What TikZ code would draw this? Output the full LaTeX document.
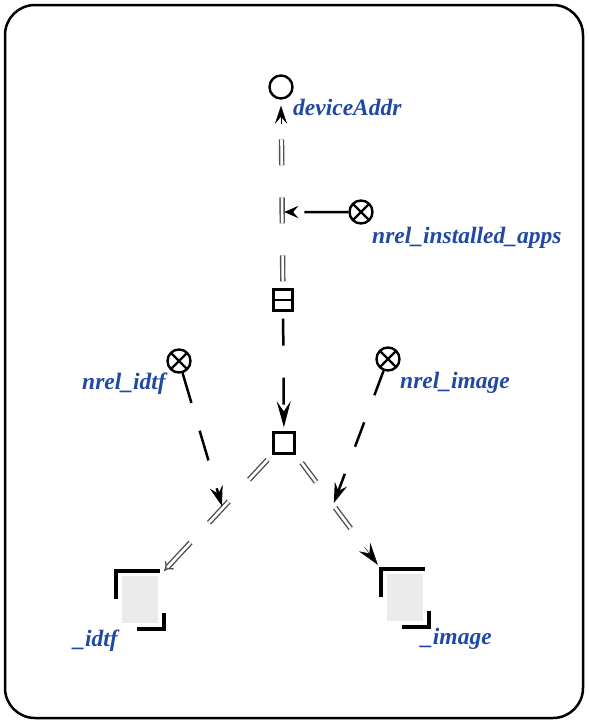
\documentclass[tikz,border=0pt]{standalone}
\usepackage{fontspec}
\setmainfont{Liberation Serif}
\usetikzlibrary{arrows.meta,calc}
\definecolor{lblue}{RGB}{32,72,165}
\definecolor{dgray}{RGB}{80,80,80}
\begin{document}
\begin{tikzpicture}[x=1pt,y=-1pt,
  lbl/.style={font=\fontsize{23.5pt}{26pt}\selectfont\bfseries\itshape, text=lblue, inner sep=0pt},
  elem/.style={circle, draw, line width=2.4pt, minimum size=23pt, inner sep=0pt},
  rel/.style={elem, path picture={\draw[line width=2.3pt] (path picture bounding box.north west) -- (path picture bounding box.south east) (path picture bounding box.north east) -- (path picture bounding box.south west);}},
  tuplebox/.style={draw, line width=2.4pt, minimum width=19pt, minimum height=21pt, inner sep=0pt, path picture={\draw[line width=2.4pt] (path picture bounding box.west) -- (path picture bounding box.east);}},
  sqbox/.style={draw, line width=2.4pt, minimum size=21pt, inner sep=0pt},
  linkbox/.style={minimum width=48pt, minimum height=58pt, inner sep=0pt},
  dblarc/.style={draw=dgray, double=white, double distance=2.6pt, line width=1.4pt},
  blkarc/.style={draw=black, line width=2.5pt},
  bracket/.style={line width=4pt, line join=miter},
]
\useasboundingbox (0,0) rectangle (589,723);
\draw[line width=2.5pt, rounded corners=30pt] (5,5) rectangle (583,718);

% nodes
\node[elem] (dev) at (281,87) {};
\node[lbl, anchor=base west] (devl) at (293,115) {deviceAddr};
\node[rel] (inst) at (361,212) {};
\node[lbl, anchor=base west] (instl) at (372,243) {nrel\_installed\_apps};
\node[tuplebox] (tup) at (283,300) {};
\node[sqbox] (sq) at (284,443) {};
\node[rel] (ridtf) at (179,361) {};
\node[lbl, anchor=base east] (ridtfl) at (166,389) {nrel\_idtf};
\node[rel] (rimg) at (388,359) {};
\node[lbl, anchor=base west] (rimgl) at (400,388) {nrel\_image};
\node[linkbox] (lidtf) at (140,600) {};
\node[linkbox] (limg) at (405,598) {};
\node[lbl, anchor=base east] (lidtfl) at (118,646) {\_idtf};
\node[lbl, anchor=base west] (limgl) at (421,644) {\_image};

% link shapes
\foreach \n in {lidtf,limg}{
  \fill[gray!16] ($(\n.north west)+(6,5)$) rectangle ($(\n.south east)+(-6,-6)$);
  \draw[bracket] ($(\n.north west)+(0,28)$) -- (\n.north west) -- ($(\n.north west)+(44,0)$);
  \draw[bracket] ($(\n.south east)+(0,-16)$) -- (\n.south east) -- ($(\n.south east)+(-27,0)$);
}

% connector points on arcs
\coordinate (m1) at ($(tup)!0.413!(dev)$);
\coordinate (m2) at ($(sq.south west)!0.46!(lidtf.north east)$);
\coordinate (m3) at ($(sq.south east)!0.44!(limg.north west)$);

% tuple -> deviceAddr (double dashed)
\path[dblarc, dash pattern=on 26pt off 32pt, dash phase=51pt, shorten >=12pt] (tup) -- (dev);
\draw[-{Stealth[length=18pt,width=12pt,inset=7pt]}] ($(dev.south)+(0,24)$) -- ($(dev.south)+(0,6)$);

% tuple -> square (black dashed)
\draw[blkarc, dash pattern=on 27pt off 32pt, dash phase=52pt, -{Stealth[length=26pt,width=14pt,inset=10pt]}, shorten >=4pt] (tup) -- (sq);

% square -> links (double dashed)
\path[dblarc, dash pattern=on 27pt off 30pt on 29pt off 27pt on 47pt off 7pt, dash phase=160pt, -{Implies}] (sq.south west) -- (lidtf.north east);
\path[dblarc, dash pattern=on 24pt off 32pt on 26pt off 70pt, dash phase=142pt] (sq.south east) -- (limg.north west);
\draw[-{Stealth[length=22pt,width=14pt,inset=8pt]}, shorten >=5pt] ($(sq.south east)!0.81!(limg.north west)$) -- (limg.north west);

% relation arcs
\draw[blkarc, dash pattern=on 44pt off 20pt, -{Stealth[length=14pt,width=12pt,inset=5pt]}, shorten >=2pt] (inst) -- (m1);
\draw[blkarc, dash pattern=on 31pt off 29pt, -{Stealth[length=20pt,width=13pt,inset=7pt]}, shorten >=2pt] (ridtf) -- (m2);
\draw[blkarc, dash pattern=on 26pt off 29pt, -{Stealth[length=20pt,width=13pt,inset=7pt]}, shorten >=2pt] (rimg) -- (m3);
\end{tikzpicture}
\end{document}
